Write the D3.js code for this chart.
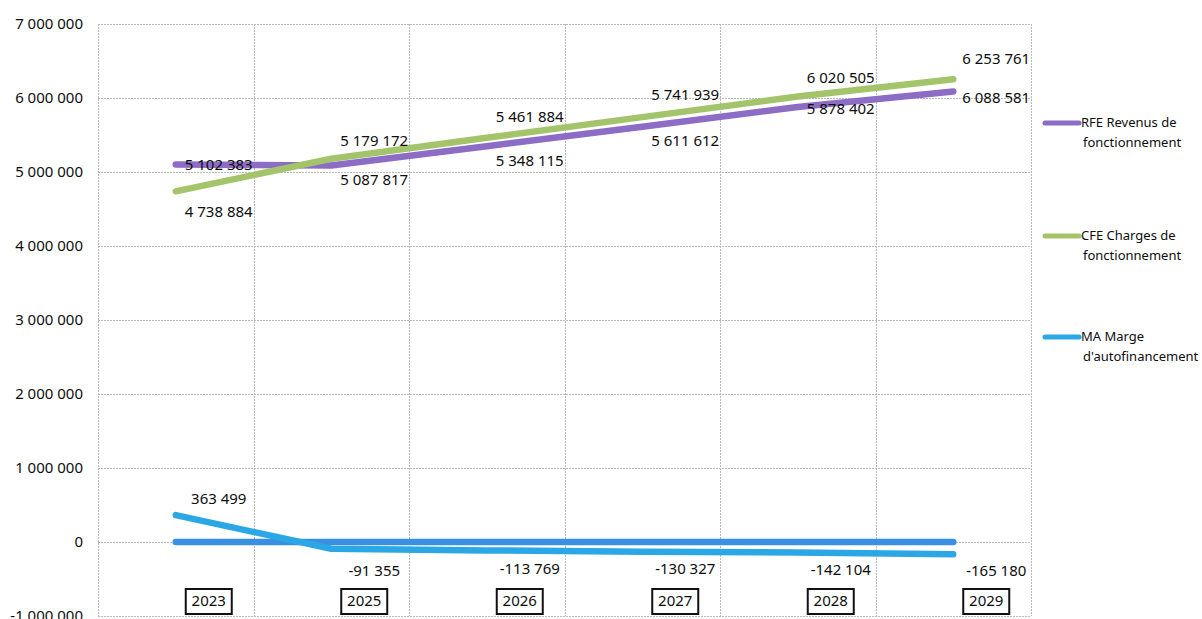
<!DOCTYPE html>
<html>
<head>
<meta charset="utf-8">
<script src="https://cdn.jsdelivr.net/npm/d3@7"></script>
<style>
	body { margin: 0; background: #fff; }
	svg text { font-family: "Noto Sans", "Open Sans", sans-serif; fill: #0d0d0d; }
</style>
</head>
<body>
<svg id="chart" width="1202" height="619"></svg>
<script>
var years = ['2023', '2025', '2026', '2027', '2028', '2029'];
var rfe = [5102383, 5087817, 5348115, 5611612, 5878402, 6088581];
var cfe = [4738884, 5179172, 5461884, 5741939, 6020505, 6253761];
var ma = [363499, -91355, -113769, -130327, -142104, -165180];
var zero = [0, 0, 0, 0, 0, 0];
var yTicks = [-1000000, 0, 1000000, 2000000, 3000000, 4000000, 5000000, 6000000, 7000000];

// label placement (vertical offset from the point, in px)
var rfeDy = [6, 19, 20, 19, 7, 12];
var cfeDy = [26, -13, -16, -17, -13, -15];
var maDy = [-11, 27, 24, 22, 22, 22];

+function(){
	var series = [
		{ name: ['RFE Revenus de', 'fonctionnement'], values: rfe, color: '#8c6cc4', dy: rfeDy, legendY: 123 },
		{ name: ['CFE Charges de', 'fonctionnement'], values: cfe, color: '#a3c46a', dy: cfeDy, legendY: 236 },
		{ name: ['MA Marge', "d'autofinancement"], values: ma, color: '#2ba7e6', dy: maDy, legendY: 337 }
	];

	var fmt = function(v) {
		var s = Math.abs(v).toString().split(/(?=(?:\d{3})+$)/g).join(' ');
		return (v < 0 ? '-' : '') + s;
	};

	var svg = d3.select('#chart');
	var mLeft = 98, mRight = 1031, mTop = 24, mBottom = 616;

	var x = d3.scaleBand().domain(years).range([mLeft, mRight]);
	var y = d3.scaleLinear().domain([-1000000, 7000000]).range([mBottom, mTop]);
	var cx = function(i) { return x(years[i]) + x.bandwidth() / 2; };

	// grid
	var grid = svg.append('g').attr('stroke', '#b9b9b9').attr('stroke-width', 1).attr('stroke-dasharray', '2,1');
	grid.selectAll('line.h').data(yTicks).enter().append('line')
		.attr('x1', mLeft).attr('x2', mRight)
		.attr('y1', function(d) { return Math.round(y(d)) + 0.5; })
		.attr('y2', function(d) { return Math.round(y(d)) + 0.5; });
	grid.selectAll('line.v').data(d3.range(years.length + 1)).enter().append('line')
		.attr('x1', function(i) { return Math.round(mLeft + i * x.bandwidth()) + 0.5; })
		.attr('x2', function(i) { return Math.round(mLeft + i * x.bandwidth()) + 0.5; })
		.attr('y1', mTop).attr('y2', mBottom);

	// y axis labels
	var yAxis = d3.axisLeft(y).tickValues(yTicks).tickSize(0).tickPadding(15).tickFormat(fmt);
	svg.append('g').attr('transform', 'translate(' + mLeft + ',0)').call(yAxis)
		.call(function(g) { g.select('.domain').remove(); })
		.selectAll('text').style('font-size', '15px').attr('fill', '#0d0d0d');

	var line = d3.line()
		.x(function(d, i) { return cx(i); })
		.y(function(d) { return y(d); });

	// zero series
	svg.append('path').datum(zero)
		.attr('d', line).attr('fill', 'none')
		.attr('stroke', '#3b8fe2').attr('stroke-width', 6.5).attr('stroke-linecap', 'round');

	series.forEach(function(s) {
		svg.append('path').datum(s.values)
			.attr('d', line).attr('fill', 'none')
			.attr('stroke', s.color).attr('stroke-width', 6.5)
			.attr('stroke-linecap', 'round').attr('stroke-linejoin', 'round');
	});

	// data labels
	series.forEach(function(s) {
		svg.append('g').selectAll('text').data(s.values).enter().append('text')
			.attr('x', function(d, i) { return cx(i) + 43; })
			.attr('y', function(d, i) { return y(d) + s.dy[i]; })
			.attr('text-anchor', 'middle')
			.style('font-size', '15px')
			.text(fmt);
	});

	// category labels in boxes
	var cat = svg.append('g').selectAll('g').data(years).enter().append('g')
		.attr('transform', function(d, i) { return 'translate(' + (cx(i) + 33) + ',601)'; });
	cat.append('rect')
		.attr('x', -23).attr('y', -12).attr('width', 46).attr('height', 25)
		.attr('fill', '#fff').attr('stroke', '#111').attr('stroke-width', 2);
	cat.append('text')
		.attr('text-anchor', 'middle').attr('dy', '0.36em')
		.style('font-size', '15px')
		.text(function(d) { return d; });

	// legend
	var lg = svg.append('g').selectAll('g').data(series).enter().append('g')
		.attr('transform', function(d) { return 'translate(1043,' + d.legendY + ')'; });
	lg.append('line')
		.attr('x1', 2).attr('x2', 36).attr('y1', 0).attr('y2', 0)
		.attr('stroke', function(d) { return d.color; })
		.attr('stroke-width', 5).attr('stroke-linecap', 'round');
	lg.append('text')
		.attr('x', 38).attr('y', 4)
		.style('font-size', '13px')
		.selectAll('tspan').data(function(d) { return d.name; }).enter().append('tspan')
		.attr('x', function(d, i) { return i === 0 ? 38 : 40; })
		.attr('dy', function(d, i) { return i === 0 ? 0 : 20; })
		.text(function(d) { return d; });
}();
</script>
</body>
</html>
